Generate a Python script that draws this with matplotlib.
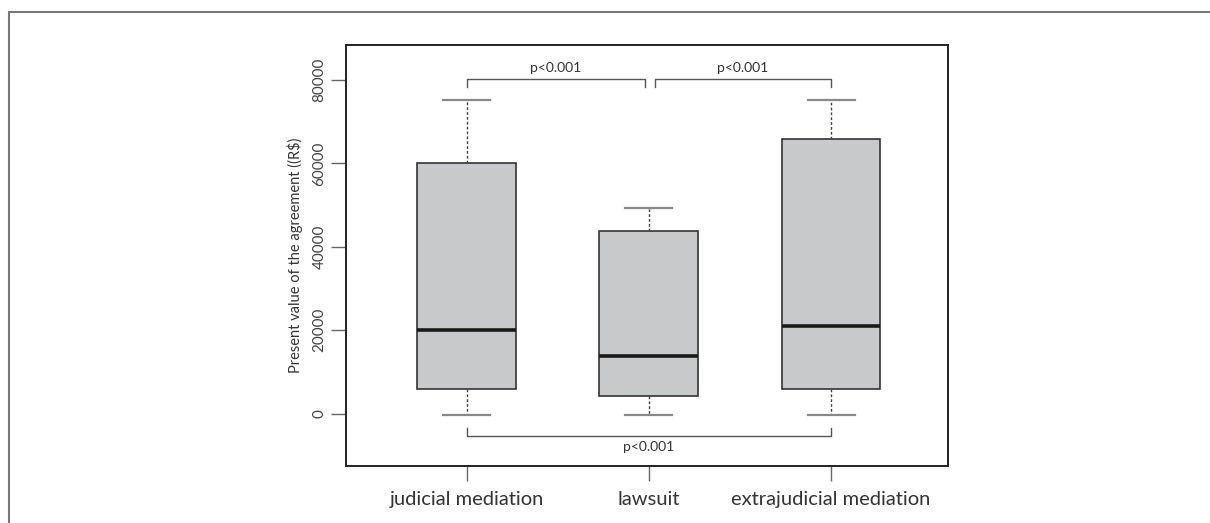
import matplotlib
matplotlib.use("Agg")
import matplotlib.pyplot as plt
from matplotlib.patches import Rectangle

plt.rcParams['font.family'] = ['Lato', 'DejaVu Sans']

# groups and box statistics (R$)
groups = ['judicial mediation', 'lawsuit', 'extrajudicial mediation']
whislo = [-300, -300, -300]
q1 = [5850, 4200, 5900]
med = [20050, 13850, 21000]
q3 = [60150, 43700, 65850]
whishi = [75200, 49200, 75200]

# significance brackets: (x start, x end, y, label)
brackets = [(1.0, 1.98, 80300, 'p<0.001'),
            (2.035, 3.0, 80300, 'p<0.001')]
bottom_bracket = (1.0, 3.0, -5350, 'p<0.001')

fig = plt.figure(figsize=(12.1, 5.23), dpi=100)
ax = fig.add_axes([346/1210, 1 - 466/523, (948-346)/1210, (466-44.7)/523])

stats = []
for i in range(len(groups)):
    stats.append({'label': groups[i], 'whislo': whislo[i], 'q1': q1[i],
                  'med': med[i], 'q3': q3[i], 'whishi': whishi[i], 'fliers': []})

ax.bxp(stats, positions=[1, 2, 3], widths=0.543, patch_artist=True,
       showfliers=False, capwidths=0.258,
       boxprops=dict(facecolor='#c8c9ca', edgecolor='#333333', linewidth=1.2),
       medianprops=dict(color='#1a1a1a', linewidth=2.6),
       whiskerprops=dict(color='#444444', linewidth=1, linestyle=(0, (2, 1.5))),
       capprops=dict(color='#888888', linewidth=1.6))

ax.set_xlim(0.338, 3.642)
ax.set_ylim(-12540, 88470)

ax.set_yticks([0, 20000, 40000, 60000, 80000])
ax.set_yticklabels(['0', '20000', '40000', '60000', '80000'], rotation=90,
                   va='center', fontsize=11, color='#444444')
ax.set_xticks([1, 2, 3])
ax.set_xticklabels(groups, fontsize=14.5, color='#333333')
ax.tick_params(axis='y', length=11, width=1, color='#666666', pad=3)
ax.tick_params(axis='x', length=11, width=1, color='#666666', pad=7)
for s in ax.spines.values():
    s.set_linewidth(1.4)
    s.set_color('#222222')

ax.set_ylabel('Present value of the agreement ((R$)', fontsize=10.5, color='#333333')
ax.yaxis.set_label_coords(-0.072, 0.5)

bc = '#555555'
for x0, x1, y, lab in brackets:
    ax.plot([x0, x0, x1, x1], [78300, y, y, 78300], color=bc, linewidth=1)
    ax.text((x0 + x1) / 2, y + 1200, lab, ha='center', va='bottom',
            fontsize=10, color='#333333')
x0, x1, y, lab = bottom_bracket
ax.plot([x0, x0, x1, x1], [-3350, y, y, -3350], color=bc, linewidth=1)
ax.text((x0 + x1) / 2, y - 1200, lab, ha='center', va='top',
        fontsize=10, color='#333333')

# outer frame of the figure panel
fig.patches.append(Rectangle((8.5/1210, -0.1), 1.2, 1.1 - 12.5/523,
                             transform=fig.transFigure, fill=False,
                             edgecolor='#777777', linewidth=1.5))

fig.savefig('out.png', dpi=100)
